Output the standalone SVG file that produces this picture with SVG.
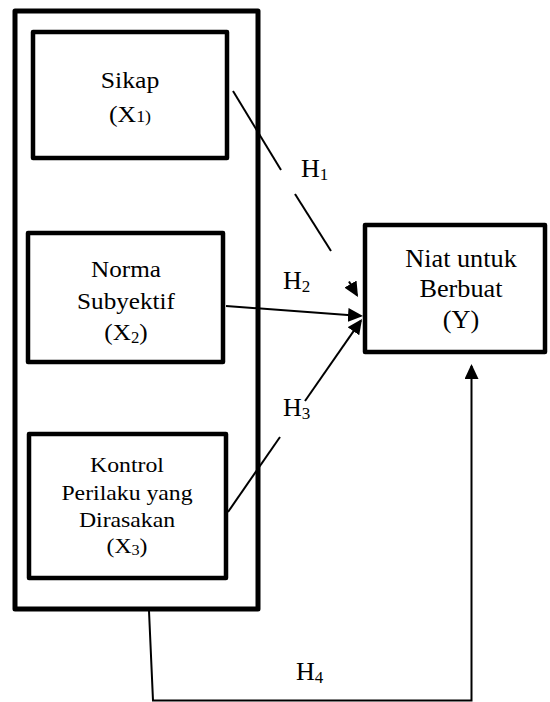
<svg xmlns="http://www.w3.org/2000/svg" width="550" height="702" viewBox="0 0 550 702">
  <style>
    .box { fill: #ffffff; stroke: #000000; stroke-width: 4.5; stroke-linejoin: round; }
    .outer { fill: #ffffff; stroke: #000000; stroke-width: 5; stroke-linejoin: round; }
    .conn { fill: none; stroke: #000000; stroke-width: 2; }
    .t { font-family: "Liberation Serif", "Times New Roman", serif; fill: #000000; text-anchor: middle; }
    .h { font-family: "Liberation Serif", "Times New Roman", serif; fill: #000000; font-size: 26px; }
  </style>
  <defs>
    <marker id="arr" viewBox="0 0 15 14" markerWidth="15" markerHeight="14" refX="13" refY="7" orient="auto" markerUnits="userSpaceOnUse">
      <path d="M0,0 L15,7 L0,14 z" fill="#000000"/>
    </marker>
  </defs>

  <g id="independent-variables">
    <rect class="outer" x="15" y="11" width="243" height="598"/>
  </g>

  <g id="sikap">
    <rect class="box" x="33" y="32" width="194" height="126"/>
    <text class="t" font-size="23" transform="matrix(1.12 0 0 1 130 0)" x="0" y="88">Sikap</text>
    <text class="t" font-size="23" transform="matrix(1.12 0 0 1 130 0)" x="0" y="122">(X<tspan font-size="16">1)</tspan></text>
  </g>

  <g id="norma">
    <rect class="box" x="28" y="233" width="195" height="129"/>
    <text class="t" font-size="24" transform="matrix(1.05 0 0 1 126 0)" x="0" y="277">Norma</text>
    <text class="t" font-size="24" transform="matrix(1.05 0 0 1 126 0)" x="0" y="309">Subyektif</text>
    <text class="t" font-size="24" transform="matrix(1.05 0 0 1 126 0)" x="0" y="340">(X<tspan font-size="16" dy="3">2</tspan><tspan dy="-3">)</tspan></text>
  </g>

  <g id="kontrol">
    <rect class="box" x="29" y="434" width="197" height="144"/>
    <text class="t" font-size="22" transform="matrix(1.08 0 0 1 127 0)" x="0" y="472">Kontrol</text>
    <text class="t" font-size="22" transform="matrix(1.08 0 0 1 127 0)" x="0" y="500">Perilaku yang</text>
    <text class="t" font-size="22" transform="matrix(1.08 0 0 1 127 0)" x="0" y="527">Dirasakan</text>
    <text class="t" font-size="22" transform="matrix(1.08 0 0 1 127 0)" x="0" y="553">(X<tspan font-size="15" dy="2">3</tspan><tspan dy="-2">)</tspan></text>
  </g>

  <g id="niat">
    <rect class="box" x="365" y="225" width="180" height="127"/>
    <text class="t" font-size="25" transform="matrix(1.05 0 0 1 461 0)" x="0" y="267">Niat untuk</text>
    <text class="t" font-size="25" transform="matrix(1.05 0 0 1 461 0)" x="0" y="297">Berbuat</text>
    <text class="t" font-size="25" transform="matrix(1.05 0 0 1 461 0)" x="0" y="328">(Y)</text>
  </g>

  <g id="connectors">
    <!-- H1 -->
    <line class="conn" x1="233" y1="91" x2="281" y2="170"/>
    <line class="conn" x1="295" y1="194" x2="331" y2="251"/>
    <line class="conn" x1="349" y1="281.5" x2="357" y2="295.3" marker-end="url(#arr)"/>
    <!-- H2 -->
    <line class="conn" x1="226" y1="306" x2="361" y2="315.9" marker-end="url(#arr)"/>
    <!-- H3 -->
    <line class="conn" x1="228" y1="512" x2="280" y2="437"/>
    <line class="conn" x1="305" y1="401" x2="360.9" y2="320.6" marker-end="url(#arr)"/>
    <!-- H4 -->
    <polyline class="conn" points="149,611 153,700.5 471.5,700.5 471.5,366" marker-end="url(#arr)"/>
  </g>

  <g id="labels">
    <text class="h" x="301" y="177">H<tspan font-size="17" dy="3">1</tspan></text>
    <text class="h" x="283" y="289">H<tspan font-size="17" dy="3">2</tspan></text>
    <text class="h" x="283" y="416">H<tspan font-size="17" dy="3">3</tspan></text>
    <text class="h" x="296" y="680">H<tspan font-size="17" dy="3">4</tspan></text>
  </g>
</svg>
